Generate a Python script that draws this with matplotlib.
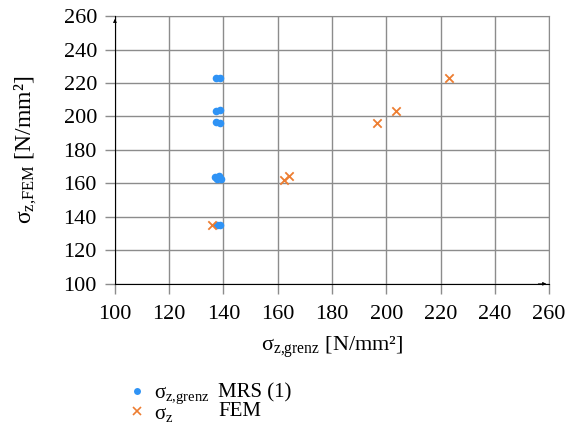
import matplotlib.pyplot as plt
from matplotlib.lines import Line2D

plt.rcParams['font.family'] = ['Liberation Serif', 'DejaVu Serif']
plt.rcParams['mathtext.fontset'] = 'custom'
plt.rcParams['mathtext.rm'] = 'Liberation Serif'
plt.rcParams['mathtext.it'] = 'Liberation Serif:italic'

# sigma_z,grenz after MRS (1) vs sigma_z,FEM
mrs_x = [137.2, 138.8, 137.2, 138.8, 137.2, 138.8, 137.0, 138.5, 137.5, 139.0, 137.5, 138.8]
mrs_y = [223.0, 222.8, 203.0, 203.6, 196.8, 196.0, 164.0, 164.5, 162.5, 162.8, 135.2, 135.2]
# sigma_z from FEM
fem_x = [135.8, 162.2, 164.2, 196.6, 203.4, 223.0]
fem_y = [135.3, 162.2, 164.3, 196.2, 203.4, 223.0]

ticks = [100, 120, 140, 160, 180, 200, 220, 240, 260]
blue = '#2F93F5'
orange = '#ED7D31'
grid_c = '#8c8c8c'

fig = plt.figure(figsize=(5.69, 4.23), dpi=100)
ax = fig.add_axes([0.202, 0.329, 0.763, 0.633])

ax.scatter(mrs_x, mrs_y, s=30, color=blue, zorder=3, linewidths=0)
ax.scatter(fem_x, fem_y, s=36, color=orange, marker='x', linewidths=1.3, zorder=3)

ax.set_xlim(100, 260)
ax.set_ylim(100, 260)
ax.set_xticks(ticks)
ax.set_yticks(ticks)
ax.grid(True, color=grid_c, linewidth=1)
ax.tick_params(direction='out', length=7, width=1, color=grid_c, labelsize=16)
ax.tick_params(axis='x', pad=8)
ax.tick_params(axis='y', pad=6)
for s in ['top', 'right']:
    ax.spines[s].set_color(grid_c)
for s in ['left', 'bottom']:
    ax.spines[s].set_color('black')
    ax.spines[s].set_linewidth(0.8)
    ax.spines[s].set_zorder(4)

# small arrow heads on axes
ax.annotate('', xy=(100, 260), xytext=(100, 255), annotation_clip=False,
            arrowprops=dict(arrowstyle='-|>', color='black', lw=0.6, mutation_scale=5))
ax.annotate('', xy=(260, 100), xytext=(255, 100), annotation_clip=False,
            arrowprops=dict(arrowstyle='-|>', color='black', lw=0.6, mutation_scale=5))

ax.set_xlabel(r'σ$_{\mathrm{z{,}grenz}}$ [N/mm²]', fontsize=16, labelpad=8)
ax.set_ylabel(r'σ$_{\mathrm{z{,}FEM}}$ [N/mm²]', fontsize=17, labelpad=18)

handles = [
    Line2D([], [], linestyle='none', marker='o', markersize=5, color=blue, markeredgewidth=0),
    Line2D([], [], linestyle='none', marker='x', markersize=6, color=orange, markeredgewidth=1.2),
]
labels = [r'σ$_{\mathrm{z{,}grenz}}$', r'σ$_{\mathrm{z}}$']
fig.legend(handles, labels, loc='upper left', bbox_to_anchor=(0.226, 0.093), frameon=False,
           fontsize=15, handlelength=0.8, handletextpad=0.4, labelspacing=-0.1,
           borderaxespad=0, borderpad=0)
fig.text(218 / 569, 1 - 393 / 423, 'MRS (1)', fontsize=15, va='center')
fig.text(218 / 569, 1 - 411 / 423, 'FEM', fontsize=15, va='center')

fig.savefig('out.png', dpi=100)
